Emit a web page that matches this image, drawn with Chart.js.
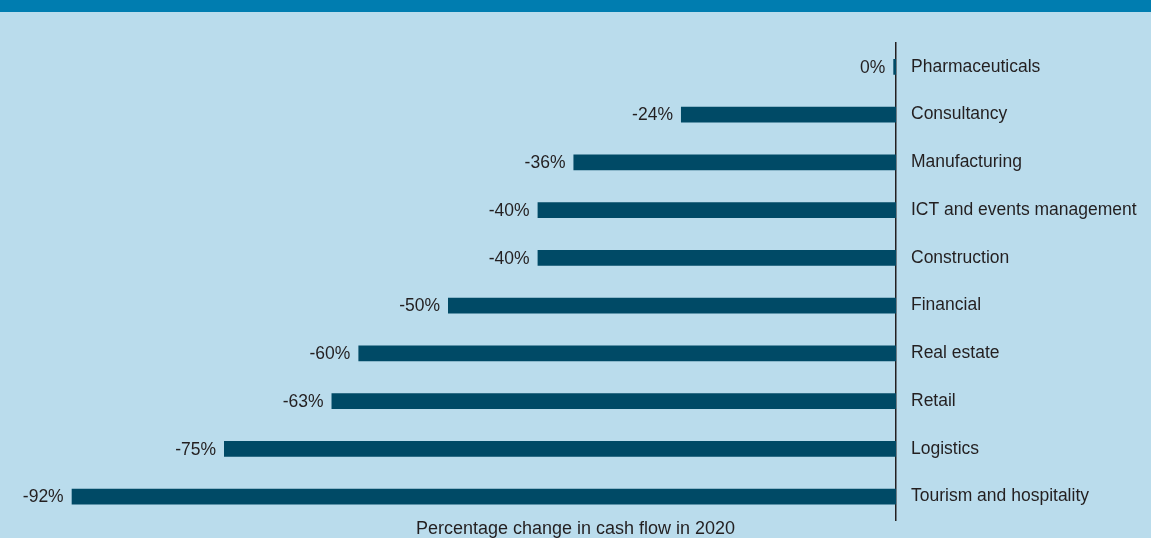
<!DOCTYPE html>
<html>
<head>
<meta charset="utf-8">
<script src="https://cdn.jsdelivr.net/npm/chart.js@4.4.0/dist/chart.umd.min.js"></script>
<style>
    html, body { margin: 0; padding: 0; background: #badcec; overflow: hidden; }
    .band { height: 12px; background: #007db0; }
    .wrap { position: relative; width: 1151px; height: 526px; }
</style>
</head>
<body>
<div class="band"></div>
<div class="wrap"><canvas id="cashFlowChart"></canvas></div>
<script>
// sectors, top to bottom
const sectors = ['Pharmaceuticals', 'Consultancy', 'Manufacturing', 'ICT and events management',
    'Construction', 'Financial', 'Real estate', 'Retail', 'Logistics', 'Tourism and hospitality'];
// percentage change in cash flow (the 0% bar is drawn as a sliver)
const changeValues = [-0.3, -24, -36, -40, -40, -50, -60, -63, -75, -92];
const changeLabels = ['0%', '-24%', '-36%', '-40%', '-40%', '-50%', '-60%', '-63%', '-75%', '-92%'];
const axisTitle = 'Percentage change in cash flow in 2020';

const textColor = '#231f20';
const fontFamily = '"Liberation Sans", Arial, Helvetica, sans-serif';

// value labels just left of each bar end
const valueLabels = {
    id: 'valueLabels',
    afterDatasetsDraw(chart) {
        const ctx = chart.ctx;
        const meta = chart.getDatasetMeta(0);
        ctx.save();
        ctx.font = '17.5px ' + fontFamily;
        ctx.fillStyle = textColor;
        ctx.textAlign = 'right';
        ctx.textBaseline = 'middle';
        meta.data.forEach(function(bar, i) {
            ctx.fillText(changeLabels[i], bar.x - 8, bar.y + 1);
        });
        ctx.restore();
    }
};

new Chart(document.getElementById('cashFlowChart'), {
    type: 'bar',
    data: {
        labels: sectors,
        datasets: [{
            data: changeValues,
            backgroundColor: '#004a66',
            barPercentage: 1,
            categoryPercentage: 0.335
        }]
    },
    options: {
        indexAxis: 'y',
        responsive: true,
        maintainAspectRatio: false,
        animation: false,
        layout: {
            padding: { top: 31, left: 0, right: 0, bottom: 0 }
        },
        plugins: {
            legend: { display: false },
            tooltip: { enabled: false },
            title: {
                display: true,
                position: 'bottom',
                text: axisTitle,
                color: textColor,
                font: { family: fontFamily, size: 18, weight: 'normal', lineHeight: 1 },
                padding: { top: 0, bottom: -7 }
            }
        },
        scales: {
            x: {
                display: false,
                min: -100,
                max: 0
            },
            y: {
                position: 'right',
                grid: { display: false },
                border: { display: true, color: '#231f20', width: 1.5 },
                ticks: {
                    color: textColor,
                    padding: 7,
                    font: { family: fontFamily, size: 17.5 }
                },
                afterFit: function(scale) {
                    scale.width = 255;
                }
            }
        }
    },
    plugins: [valueLabels]
});
</script>
</body>
</html>
